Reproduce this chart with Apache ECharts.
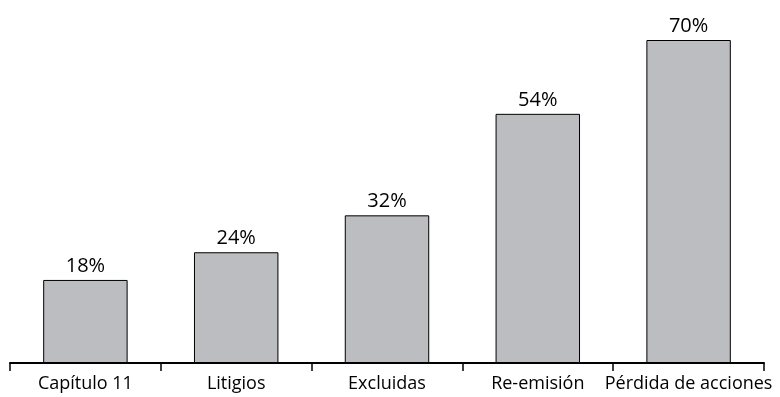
<!DOCTYPE html>
<html>
<head>
<meta charset="utf-8">
<script src="https://cdn.jsdelivr.net/npm/echarts@6/dist/echarts.min.js"></script>
<style>
  html, body { margin: 0; padding: 0; background: #fff; }
  #main { width: 780px; height: 397px; }
</style>
</head>
<body>
<div id="main"></div>
<script>
const categories = ['Capítulo 11', 'Litigios', 'Excluidas', 'Re-emisión', 'Pérdida de acciones'];
const values = [18, 24, 32, 54, 70];

const chart = echarts.init(document.getElementById('main'));
chart.setOption({
  animation: false,
  textStyle: { fontFamily: 'Open Sans' },
  grid: { left: 10, right: 16, top: 40, bottom: 34 },
  xAxis: {
    type: 'category',
    data: categories,
    axisLine: { lineStyle: { color: '#000', width: 2 } },
    axisTick: { show: true, length: 8, lineStyle: { color: '#000', width: 1.5 } },
    axisLabel: { color: '#000', fontSize: 18, margin: 12, interval: 0 }
  },
  yAxis: {
    type: 'value',
    min: 0,
    max: 70,
    show: false,
    splitLine: { show: false }
  },
  series: [{
    type: 'bar',
    data: values,
    barWidth: '56%',
    itemStyle: { color: '#bcbdc0', borderColor: '#000', borderWidth: 1 },
    label: {
      show: true,
      position: 'top',
      distance: 4,
      color: '#000',
      fontSize: 20,
      formatter: '{c}%'
    }
  }]
});
</script>
</body>
</html>
